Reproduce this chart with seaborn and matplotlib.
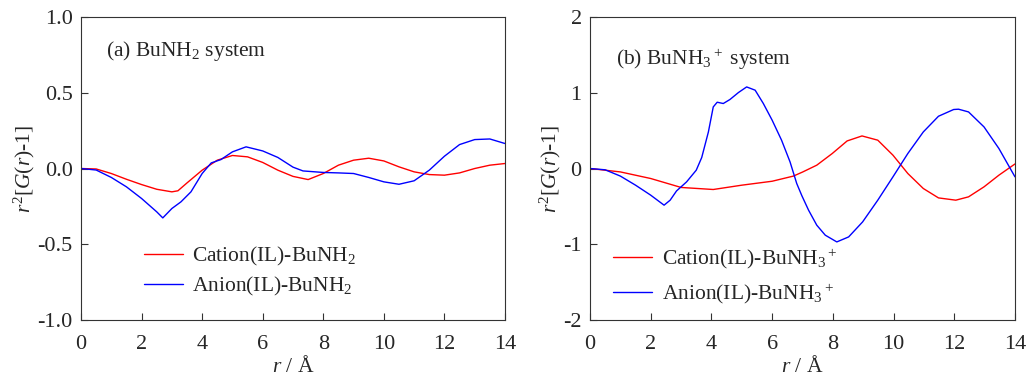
import numpy as np
import pandas as pd
import matplotlib
matplotlib.use("Agg")
import matplotlib.pyplot as plt
import seaborn as sns

# Panel (a) BuNH2 system
r_a_cat = [0, 0.5, 1, 1.5, 2, 2.5, 3.0, 3.2, 3.5, 4, 4.5, 5, 5.5, 6, 6.5, 7, 7.5, 8, 8.5, 9, 9.5, 10, 10.5, 11, 11.5, 12, 12.5, 13, 13.5, 14]
g_a_cat = [0, -0.003, -0.033, -0.071, -0.106, -0.137, -0.154, -0.147, -0.095, -0.011, 0.055, 0.086, 0.077, 0.04, -0.011, -0.052, -0.073, -0.033, 0.022, 0.055, 0.068, 0.05, 0.011, -0.022, -0.04, -0.044, -0.029, 0.0, 0.022, 0.033]
r_a_an = [0, 0.5, 1, 1.5, 2, 2.5, 2.7, 3.0, 3.3, 3.63, 4, 4.3, 4.62, 5, 5.45, 6, 6.5, 7, 7.33, 8, 8.5, 9, 9.5, 10, 10.5, 11, 11.5, 12, 12.5, 13, 13.5, 14]
g_a_an = [0, -0.01, -0.059, -0.121, -0.198, -0.286, -0.326, -0.264, -0.22, -0.154, -0.033, 0.037, 0.059, 0.11, 0.143, 0.116, 0.073, 0.009, -0.016, -0.026, -0.029, -0.033, -0.059, -0.088, -0.104, -0.081, -0.011, 0.081, 0.158, 0.191, 0.195, 0.165]

# Panel (b) BuNH3+ system
r_b_cat = [0, 1, 2, 3, 4.06, 5, 6, 6.7, 7.0, 7.47, 7.98, 8.47, 8.96, 9.48, 9.98, 10.47, 10.98, 11.48, 12.05, 12.47, 12.98, 13.47, 14]
g_b_cat = [0, -0.045, -0.132, -0.25, -0.277, -0.22, -0.168, -0.10, -0.047, 0.044, 0.198, 0.364, 0.430, 0.374, 0.176, -0.066, -0.264, -0.388, -0.418, -0.374, -0.242, -0.088, 0.06]
r_b_an = [0, 0.5, 1, 1.5, 2, 2.44, 2.64, 2.85, 3.18, 3.5, 3.68, 3.9, 4.06, 4.19, 4.39, 4.61, 4.89, 5.16, 5.44, 5.71, 6.0, 6.31, 6.59, 6.81, 6.98, 7.2, 7.47, 7.75, 8.13, 8.52, 8.98, 9.48, 9.98, 10.47, 10.98, 11.48, 11.98, 12.14, 12.47, 12.98, 13.47, 14]
g_b_an = [0, -0.017, -0.10, -0.22, -0.352, -0.484, -0.418, -0.296, -0.177, -0.022, 0.145, 0.483, 0.813, 0.875, 0.858, 0.911, 1.003, 1.077, 1.034, 0.858, 0.638, 0.374, 0.087, -0.198, -0.36, -0.55, -0.748, -0.88, -0.969, -0.903, -0.705, -0.418, -0.11, 0.198, 0.483, 0.69, 0.779, 0.783, 0.747, 0.549, 0.264, -0.11]

x_ticks = [0, 2, 4, 6, 8, 10, 12, 14]
y_ticks_a = [-1.0, -0.5, 0.0, 0.5, 1.0]
y_tick_labels_a = ["-1.0", "-0.5", "0.0", "0.5", "1.0"]
y_ticks_b = [-2, -1, 0, 1, 2]
y_tick_labels_b = ["-2", "-1", "0", "1", "2"]

sns.set_style("ticks")
plt.rcParams["font.family"] = ["Liberation Serif", "DejaVu Serif"]
plt.rcParams["mathtext.fontset"] = "custom"
plt.rcParams["mathtext.rm"] = "Liberation Serif"
plt.rcParams["mathtext.it"] = "Liberation Serif:italic"
plt.rcParams["mathtext.bf"] = "Liberation Serif:bold"
plt.rcParams["xtick.direction"] = "in"
plt.rcParams["ytick.direction"] = "in"

fig = plt.figure(figsize=(10.27, 3.78), dpi=100)
ax1 = fig.add_axes([0.0789, 0.1534, 0.4128, 0.8016])
ax2 = fig.add_axes([0.5745, 0.1534, 0.4138, 0.8016])

FS_T = 16
FS = 15.5

def make_df(r, g, label):
    return pd.DataFrame({"r": r, "g": g, "series": label})

dfa = pd.concat([make_df(r_a_cat, g_a_cat, r"Cation(IL)-BuNH$_2$"),
                 make_df(r_a_an, g_a_an, r"Anion(IL)-BuNH$_2$")])
dfb = pd.concat([make_df(r_b_cat, g_b_cat, r"Cation(IL)-BuNH$_3$$^+$"),
                 make_df(r_b_an, g_b_an, r"Anion(IL)-BuNH$_3$$^+$")])

sns.lineplot(data=dfa, x="r", y="g", hue="series", palette=["#ff0000", "#0000ff"],
             ax=ax1, linewidth=1.0, sort=False, estimator=None)
sns.lineplot(data=dfb, x="r", y="g", hue="series", palette=["#ff0000", "#0000ff"],
             ax=ax2, linewidth=1.0, sort=False, estimator=None)

for ax, yt, ytl, ylim in [(ax1, y_ticks_a, y_tick_labels_a, (-1, 1)),
                          (ax2, y_ticks_b, y_tick_labels_b, (-2, 2))]:
    ax.set_xlim(0, 14)
    ax.set_ylim(*ylim)
    ax.set_xticks(x_ticks)
    ax.set_xticklabels([str(t) for t in x_ticks], fontsize=FS_T)
    ax.set_yticks(yt)
    ax.set_yticklabels(ytl, fontsize=FS_T)
    ax.tick_params(axis="both", length=5, width=0.8, color="#333333")
    ax.tick_params(axis="x", pad=11)
    ax.tick_params(axis="y", pad=6)
    for s in ax.spines.values():
        s.set_linewidth(0.8)
        s.set_color("#333333")
    ax.set_xlabel(r"$r$ / Å", fontsize=FS, labelpad=1)
    ax.set_ylabel(r"$r^2$[$G$($r$)-1]", fontsize=FS, labelpad=0)

ax1.text(0.06, 0.87, r"(a) BuNH$_2$ system", transform=ax1.transAxes, fontsize=FS)
ax2.text(0.06, 0.84, r"(b) BuNH$_3$$^+$ system", transform=ax2.transAxes, fontsize=FS)

h, l = ax1.get_legend_handles_labels()
ax1.legend(h, l, loc="upper left", bbox_to_anchor=(0.128, 0.275), frameon=False,
           fontsize=FS, handlelength=1.8, handletextpad=0.45, labelspacing=0.3, borderaxespad=0)
h, l = ax2.get_legend_handles_labels()
ax2.legend(h, l, loc="upper left", bbox_to_anchor=(0.035, 0.27), frameon=False,
           fontsize=FS, handlelength=1.8, handletextpad=0.45, labelspacing=0.5, borderaxespad=0)

fig.savefig("out.png", dpi=100)
